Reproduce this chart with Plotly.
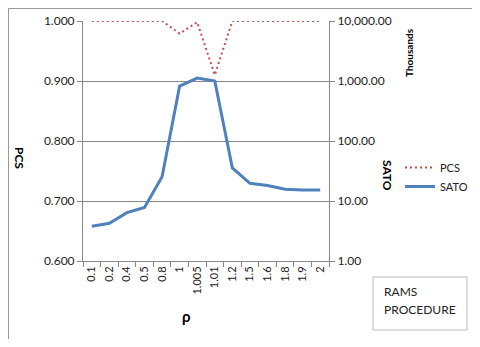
import plotly.graph_objects as go

categories = ["0.1", "0.2", "0.4", "0.5", "0.8", "1", "1.005", "1.01", "1.2", "1.5", "1.6", "1.8", "1.9", "2"]
pcs = [1.000, 1.000, 1.000, 1.000, 1.000, 0.979, 0.998, 0.910, 1.000, 1.000, 1.000, 1.000, 1.000, 1.000]
sato = [3.8, 4.25, 6.4, 7.8, 25.4, 825, 1120, 1000, 35.5, 19.7, 18.1, 15.7, 15.2, 15.2]
left_ticks = [0.6, 0.7, 0.8, 0.9, 1.0]
right_ticks = [1, 10, 100, 1000, 10000]

# page body has an 8px margin on every side; size the figure so the page does not overflow
OFF = 8
W, H = 480 - 2 * OFF, 347 - 2 * OFF
L, T = 83 - OFF, 21 - OFF
pw, ph = 246, 240
R = W - L - pw
B = H - T - ph

def px(x):
    return (x - 83) / pw

def py(y):
    return 1 - (y - 21) / ph

def cx(x):
    return (x - OFF) / W

def cy(y):
    return 1 - (y - OFF) / H

FONT = "Lato, Open Sans, sans-serif"
fig = go.Figure()
fig.add_trace(go.Scatter(x=categories, y=pcs, name="PCS", mode="lines",
                         line=dict(color="#C0504D", width=2, dash="2px,3px")))
fig.add_trace(go.Scatter(x=categories, y=sato, name="SATO", mode="lines", yaxis="y2",
                         line=dict(color="#4F81BD", width=3)))

fig.update_layout(
    width=W, height=H,
    margin=dict(l=L, r=R, t=T, b=B, autoexpand=False),
    paper_bgcolor="white", plot_bgcolor="white",
    font=dict(family=FONT, size=11, color="#222"),
    xaxis=dict(type="category", tickangle=-90, ticks="outside", tickson="boundaries",
               ticklen=5, tickcolor="#888", showline=True, linecolor="#888", linewidth=1,
               showgrid=False, tickfont=dict(size=11), range=[-0.5, 13.5], automargin=False),
    yaxis=dict(range=[0.6, 1.0], tickvals=left_ticks, tickformat=".3f", ticks="outside",
               ticklen=5, tickcolor="#888", showline=True, linecolor="#888",
               showgrid=True, gridcolor="#888", gridwidth=1, zeroline=False,
               tickfont=dict(size=12), automargin=False),
    yaxis2=dict(type="log", range=[0, 4], tickvals=right_ticks, tickformat=",.2f",
                overlaying="y", side="right", ticks="outside", ticklen=5, tickcolor="#888",
                showline=True, linecolor="#888", showgrid=False, zeroline=False,
                tickfont=dict(size=12), automargin=False),
    showlegend=True,
    legend=dict(xref="container", yref="container", x=cx(400), y=cy(153),
                xanchor="left", yanchor="top",
                bgcolor="rgba(0,0,0,0)", font=dict(size=11), tracegroupgap=7),
)

def note(text, x, y, angle=0, size=12):
    fig.add_annotation(text=text, textangle=angle, xref="paper", yref="paper",
                       x=px(x), y=py(y), xanchor="center", yanchor="middle",
                       showarrow=False, font=dict(size=size, color="#000"))

note("<b>PCS</b>", 20, 158, 90)
note("<b>SATO</b>", 388, 175, 90)
note("<b>Thousands</b>", 409, 53, -90, 10)
note("<b>ρ</b>", 186, 316, 0, 15)

for label, yy in [("RAMS", 291), ("PROCEDURE", 309)]:
    fig.add_annotation(text=label, xref="paper", yref="paper", yanchor="middle",
                       x=px(382), y=py(yy), xanchor="left", showarrow=False,
                       font=dict(size=12, color="#222"))

fig.add_shape(type="rect", xref="paper", yref="paper", x0=px(373), x1=px(467),
              y0=py(330), y1=py(277), line=dict(color="#BBB", width=1))
fig.add_shape(type="rect", xref="paper", yref="paper", x0=px(8.5), x1=px(490),
              y0=py(355), y1=py(8.5), line=dict(color="#999", width=1))

fig.write_html("out.html")
